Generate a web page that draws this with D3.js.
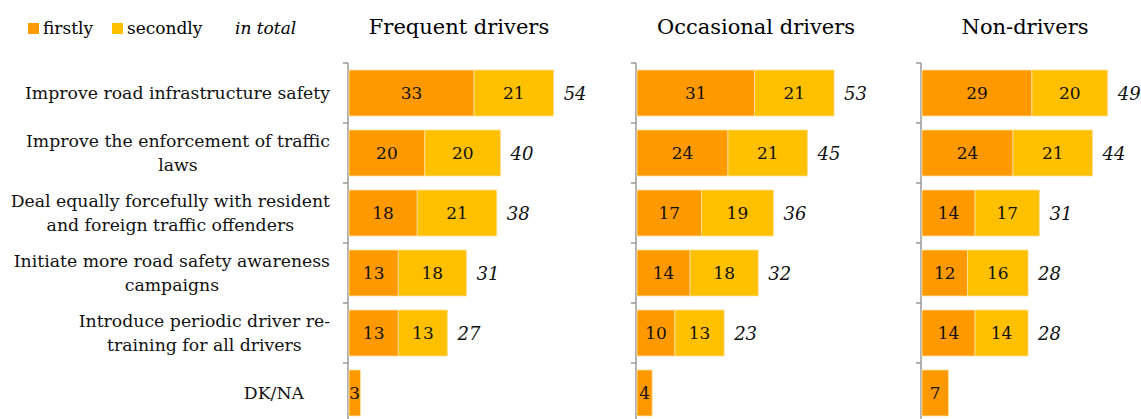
<!DOCTYPE html>
<html>
<head>
<meta charset="utf-8">
<script src="https://cdn.jsdelivr.net/npm/d3@7"></script>
<style>
  body { margin: 0; background: #fff; }
  svg { font-family: "DejaVu Serif", Georgia, serif; }
</style>
</head>
<body>
<svg id="chart" width="1141" height="419"></svg>
<script>
// data
const categories = [
  "Improve road infrastructure safety",
  "Improve the enforcement of traffic|laws",
  "Deal equally forcefully with resident|and foreign traffic offenders",
  "Initiate more road safety awareness|campaigns",
  "Introduce periodic driver re-|training for all drivers",
  "DK/NA"
];
const groups = ["Frequent drivers", "Occasional drivers", "Non-drivers"];
const firstly = [
  [33, 20, 18, 13, 13, 3],
  [31, 24, 17, 14, 10, 4],
  [29, 24, 14, 12, 14, 7]
];
const secondly = [
  [21, 20, 21, 18, 13, 0],
  [21, 21, 19, 18, 13, 0],
  [20, 21, 17, 16, 14, 0]
];
const totals = [
  [54, 40, 38, 31, 27, null],
  [53, 45, 36, 32, 23, null],
  [49, 44, 31, 28, 28, null]
];
const legendItems = ["firstly", "secondly"];

const colors = ["#FF9900", "#FFC000"];
const panelX = [348, 636, 921];

const svg = d3.select("#chart");

const y = d3.scaleBand()
  .domain(categories)
  .range([63, 423])
  .paddingInner(0.2333)
  .paddingOuter(0.1167);
const x = d3.scaleLinear().domain([0, 60]).range([0, 227.4]);

// legend
const legend = svg.append("g").attr("font-size", 17);
const legX = [28, 112];
legendItems.forEach((name, i) => {
  legend.append("rect").attr("x", legX[i]).attr("y", 23)
    .attr("width", 11).attr("height", 11).attr("fill", colors[i]);
  legend.append("text").attr("x", legX[i] + 15).attr("y", 34).text(name);
});
legend.append("text").attr("x", 235).attr("y", 34)
  .attr("font-style", "italic").text("in total");

// category labels: wrapped lines, centred inside a right-aligned block
const labels = svg.append("g").attr("font-size", 17.3).attr("fill", "#111");
categories.forEach(c => {
  const lines = c.split("|");
  const g = labels.append("g");
  const cy = y(c) + y.bandwidth() / 2;
  const t = g.selectAll("text").data(lines).join("text")
    .attr("text-anchor", "middle")
    .attr("y", (d, i) => cy + 6 + (i - (lines.length - 1) / 2) * 24)
    .text(d => d);
  let w = 0;
  t.each(function () { w = Math.max(w, this.getComputedTextLength()); });
  const right = lines.length === 1 && w < 100 ? 304 : 330;
  t.attr("x", right - w / 2);
});

groups.forEach((gname, gi) => {
  const g = svg.append("g").attr("transform", `translate(${panelX[gi]},0)`);

  g.append("text").attr("x", [111, 120, 104][gi]).attr("y", 34)
    .attr("text-anchor", "middle").attr("font-size", 21).text(gname);

  // axis with ticks between bands
  const step = y.step();
  const ticks = d3.range(categories.length + 1).map(i => 63 + i * step);
  g.append("line").attr("x1", 0).attr("x2", 0).attr("y1", 63).attr("y2", 423)
    .attr("stroke", "#999").attr("stroke-width", 1.5);
  g.selectAll(".tick").data(ticks).join("line")
    .attr("x1", -5).attr("x2", 0).attr("y1", d => d).attr("y2", d => d)
    .attr("stroke", "#999").attr("stroke-width", 1.5);

  categories.forEach((c, i) => {
    const f = firstly[gi][i], s = secondly[gi][i], tot = totals[gi][i];
    const by = y(c), bh = y.bandwidth();
    const segs = [[0, f], [f, f + s]];
    segs.forEach(([a, b], k) => {
      if (b - a <= 0) return;
      g.append("rect").attr("x", x(a) + 1).attr("y", by)
        .attr("width", x(b) - x(a)).attr("height", bh)
        .attr("fill", colors[k]).attr("stroke", "#FFE0A0").attr("stroke-width", 0.8);
      g.append("text").attr("x", x((a + b) / 2) + 1).attr("y", by + bh / 2 + 6)
        .attr("text-anchor", "middle").attr("font-size", 17).attr("fill", "#111")
        .text(b - a);
    });
    if (tot != null) {
      g.append("text").attr("x", x(f + s) + 11).attr("y", by + bh / 2 + 7)
        .attr("font-size", 18).attr("font-style", "italic").attr("fill", "#111")
        .text(tot);
    }
  });
});
</script>
</body>
</html>
